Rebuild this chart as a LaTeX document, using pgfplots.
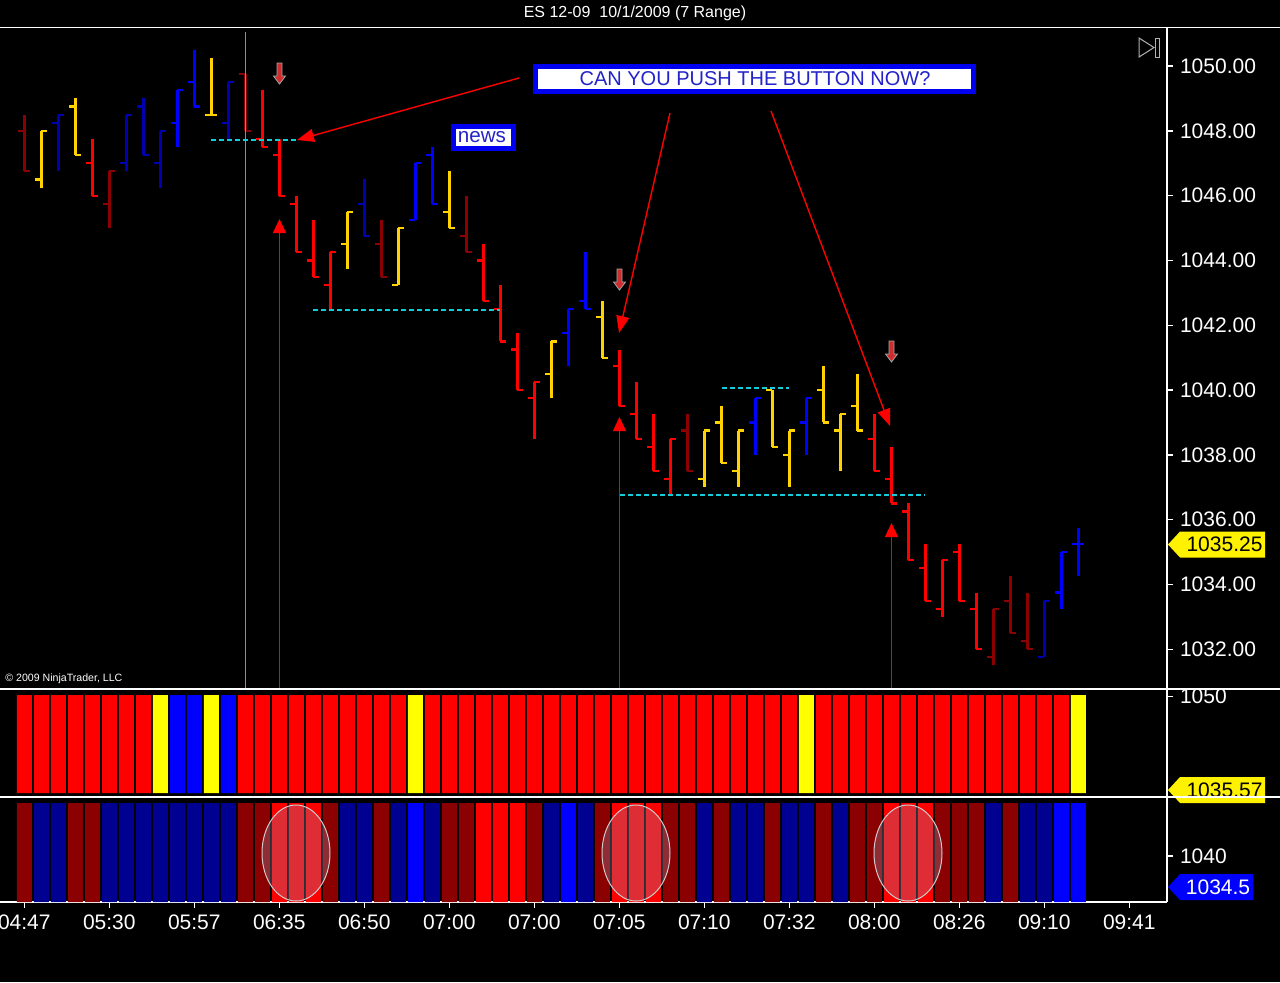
\documentclass[border=0pt]{standalone}
\usepackage{pgfplots}
\pgfplotsset{compat=1.18}
\usepackage{pgfplotstable}
\usepackage{fontspec}
\setmainfont{Liberation Sans}
\usetikzlibrary{arrows.meta}

\definecolor{cRed}{RGB}{255,0,0}
\definecolor{cDkRed}{RGB}{139,0,0}
\definecolor{cGold}{RGB}{255,210,0}
\definecolor{cBlue}{RGB}{0,0,255}
\definecolor{cDkBlue}{RGB}{0,0,176}
\definecolor{pYel}{RGB}{255,255,0}
\definecolor{pDkBlue}{RGB}{0,0,145}
\definecolor{cCyan}{RGB}{20,205,215}
\definecolor{cVline}{RGB}{100,140,255}
\definecolor{cBoxBlue}{RGB}{0,0,240}
\definecolor{cTxtBlue}{RGB}{35,35,200}
\definecolor{cEll}{RGB}{150,150,180}

\pgfdeclareplotmark{otick}{\pgfpathmoveto{\pgfqpoint{-\pgfplotmarksize}{0pt}}\pgfpathlineto{\pgfqpoint{0pt}{0pt}}\pgfusepathqstroke}
\pgfdeclareplotmark{ctick}{\pgfpathmoveto{\pgfqpoint{0pt}{0pt}}\pgfpathlineto{\pgfqpoint{\pgfplotmarksize}{0pt}}\pgfusepathqstroke}

% main panel OHLC bars (7 range), grouped by colour: index, open, high, low, close
\pgfplotstableread{
i o h l c
4 1047.00 1047.75 1046.00 1046.00
14 1047.75 1049.25 1047.50 1047.50
15 1047.25 1047.75 1046.00 1046.00
16 1045.75 1046.00 1044.25 1044.25
17 1044.00 1045.25 1043.50 1043.50
18 1043.25 1044.25 1042.50 1044.25
27 1044.00 1044.50 1042.75 1042.75
28 1042.50 1043.25 1041.50 1041.50
29 1041.25 1041.75 1040.00 1040.00
30 1039.75 1040.25 1038.50 1040.25
35 1040.75 1041.25 1039.50 1039.50
36 1039.25 1040.25 1038.50 1038.50
37 1038.25 1039.25 1037.50 1037.50
38 1037.25 1038.50 1036.75 1038.50
50 1038.50 1039.25 1037.50 1037.50
51 1037.25 1038.25 1036.50 1036.50
52 1036.25 1036.50 1034.75 1034.75
53 1034.50 1035.25 1033.50 1033.50
54 1033.25 1034.75 1033.00 1034.75
55 1035.00 1035.25 1033.50 1033.50
56 1033.25 1033.75 1032.00 1032.00
}\tRed
\pgfplotstableread{
i o h l c
0 1048.00 1048.50 1046.75 1046.75
5 1045.75 1046.75 1045.00 1046.75
13 1049.75 1049.75 1048.00 1048.00
21 1044.50 1045.25 1043.50 1043.50
26 1044.75 1046.00 1044.25 1044.25
39 1038.75 1039.25 1037.50 1037.50
57 1031.75 1033.25 1031.50 1033.25
58 1033.50 1034.25 1032.50 1032.50
59 1032.25 1033.75 1032.00 1032.00
}\tDkRed
\pgfplotstableread{
i o h l c
1 1046.50 1048.00 1046.25 1048.00
3 1048.75 1049.00 1047.25 1047.25
11 1048.50 1050.25 1048.50 1048.50
19 1044.50 1045.50 1043.75 1045.50
22 1043.25 1045.00 1043.25 1045.00
25 1045.50 1046.75 1045.00 1045.00
31 1040.50 1041.50 1039.75 1041.50
34 1042.25 1042.75 1041.00 1041.00
40 1037.25 1038.75 1037.00 1038.75
41 1039.00 1039.50 1037.75 1037.75
42 1037.50 1038.75 1037.00 1038.75
44 1040.00 1040.00 1038.25 1038.25
45 1038.00 1038.75 1037.00 1038.75
47 1040.00 1040.75 1039.00 1039.00
48 1038.75 1039.25 1037.50 1039.25
49 1039.50 1040.50 1038.75 1038.75
}\tGold
\pgfplotstableread{
i o h l c
9 1048.25 1049.25 1047.50 1049.25
10 1049.50 1050.50 1048.75 1048.75
23 1045.25 1047.00 1045.25 1047.00
24 1047.25 1047.50 1045.75 1045.75
32 1041.75 1042.50 1040.75 1042.50
33 1042.75 1044.25 1042.50 1042.50
43 1039.00 1039.75 1038.00 1039.75
46 1039.00 1039.75 1038.00 1039.75
61 1033.75 1035.00 1033.25 1035.00
62 1035.25 1035.75 1034.25 1035.25
}\tBlue
\pgfplotstableread{
i o h l c
2 1048.25 1048.50 1046.75 1048.50
6 1047.00 1048.50 1046.75 1048.50
7 1048.75 1049.00 1047.25 1047.25
8 1047.00 1048.00 1046.25 1048.00
12 1048.25 1049.50 1047.75 1049.50
20 1045.75 1046.50 1044.75 1044.75
60 1031.75 1033.50 1031.75 1033.50
}\tDkBlue

% lower panel 1 (colour blocks)
\pgfplotstableread[row sep=\\]{i v\\ 0 1\\ 1 1\\ 2 1\\ 3 1\\ 4 1\\ 5 1\\ 6 1\\ 7 1\\ 13 1\\ 14 1\\ 15 1\\ 16 1\\ 17 1\\ 18 1\\ 19 1\\ 20 1\\ 21 1\\ 22 1\\ 24 1\\ 25 1\\ 26 1\\ 27 1\\ 28 1\\ 29 1\\ 30 1\\ 31 1\\ 32 1\\ 33 1\\ 34 1\\ 35 1\\ 36 1\\ 37 1\\ 38 1\\ 39 1\\ 40 1\\ 41 1\\ 42 1\\ 43 1\\ 44 1\\ 45 1\\ 47 1\\ 48 1\\ 49 1\\ 50 1\\ 51 1\\ 52 1\\ 53 1\\ 54 1\\ 55 1\\ 56 1\\ 57 1\\ 58 1\\ 59 1\\ 60 1\\ 61 1\\}\tAred
\pgfplotstableread[row sep=\\]{i v\\ 8 1\\ 11 1\\ 23 1\\ 46 1\\ 62 1\\}\tAyel
\pgfplotstableread[row sep=\\]{i v\\ 9 1\\ 10 1\\ 12 1\\}\tAblu
% lower panel 2
\pgfplotstableread[row sep=\\]{i v\\ 0 1\\ 3 1\\ 4 1\\ 13 1\\ 14 1\\ 18 1\\ 21 1\\ 25 1\\ 26 1\\ 30 1\\ 34 1\\ 38 1\\ 39 1\\ 41 1\\ 44 1\\ 47 1\\ 49 1\\ 50 1\\ 54 1\\ 55 1\\ 56 1\\ 58 1\\}\tBdr
\pgfplotstableread[row sep=\\]{i v\\ 1 1\\ 2 1\\ 5 1\\ 6 1\\ 7 1\\ 8 1\\ 9 1\\ 10 1\\ 11 1\\ 12 1\\ 19 1\\ 20 1\\ 22 1\\ 24 1\\ 31 1\\ 33 1\\ 40 1\\ 42 1\\ 43 1\\ 45 1\\ 46 1\\ 48 1\\ 57 1\\ 59 1\\ 60 1\\}\tBdb
\pgfplotstableread[row sep=\\]{i v\\ 23 1\\ 32 1\\ 61 1\\ 62 1\\}\tBbl
\pgfplotstableread[row sep=\\]{i v\\ 15 1\\ 16 1\\ 17 1\\ 27 1\\ 28 1\\ 29 1\\ 35 1\\ 36 1\\ 37 1\\ 51 1\\ 52 1\\ 53 1\\}\tBrd

\newcommand{\ohlc}[2]{%
\addplot[forget plot, draw=none, mark=none, error bars/.cd, y dir=plus, y explicit, error mark=none, error bar style={draw=#2, line width=1.3pt, solid}] table[x=i, y=l, y error expr=\thisrow{h}-\thisrow{l}] {#1};
\addplot[forget plot, only marks, mark=otick, mark size=3pt, mark options={draw=#2, line width=1.1pt}] table[x=i, y=o] {#1};
\addplot[forget plot, only marks, mark=ctick, mark size=3pt, mark options={draw=#2, line width=1.1pt}] table[x=i, y=c] {#1};
}
\newcommand{\pbars}[2]{\addplot[forget plot, ybar, bar width=7.5pt, bar shift=0pt, fill=#2, draw=none] table[x=i, y=v] {#1};}

\pgfplotsset{ninja/.style={scale only axis, width=583.5pt, xmin=-1.4294, xmax=67.218,
  axis y line*=right, axis line style={white, line width=0.7pt},
  tick style={white, line width=0.7pt}, tick align=outside, major tick length=3pt,
  ticklabel style={text=white, font=\fontsize{10.5}{12}\selectfont},
  yticklabel style={anchor=west},
  /pgf/number format/assume math mode=true, clip=false}}

\begin{document}
\begin{tikzpicture}
\fill[black] (0,0) rectangle (640pt,-491pt);

% ---------------- main price panel
\begin{axis}[ninja, at={(0pt,-14pt)}, anchor=north west, height=330.5pt,
  axis x line=none, ymin=1030.7716, ymax=1051.1728,
  ytick={1032,1034,1036,1038,1040,1042,1044,1046,1048,1050},
  yticklabels={1032.00,1034.00,1036.00,1038.00,1040.00,1042.00,1044.00,1046.00,1048.00,1050.00}]
\ohlc{\tRed}{cRed}
\ohlc{\tDkRed}{cDkRed}
\ohlc{\tGold}{cGold}
\ohlc{\tBlue}{cBlue}
\ohlc{\tDkBlue}{cDkBlue}
\end{axis}

% ---------------- panel 1
\begin{axis}[ninja, at={(0pt,-344.5pt)}, anchor=north west, height=54pt,
  axis x line=none, ymin=-0.0408, ymax=1.0612, ytick={0.9827}, yticklabels={1050}]
\pbars{\tAred}{cRed}
\pbars{\tAyel}{pYel}
\pbars{\tAblu}{cBlue}
\end{axis}

% ---------------- panel 2
\begin{axis}[ninja, at={(0pt,-398.5pt)}, anchor=north west, height=52.5pt,
  axis x line*=bottom, ymin=0, ymax=1.0606, ytick={0.4646}, yticklabels={1040},
  xtick={0,5,10,15,20,25,30,35,40,45,50,55,60,65},
  xticklabels={04:47,05:30,05:57,06:35,06:50,07:00,07:00,07:05,07:10,07:32,08:00,08:26,09:10,09:41}]
\pbars{\tBdr}{cDkRed}
\pbars{\tBdb}{pDkBlue}
\pbars{\tBbl}{cBlue}
\pbars{\tBrd}{cRed}
\end{axis}

% ---------------- annotations (pixel coordinates)
\begin{scope}[x=0.5pt,y=-0.5pt]
\node[text=white, font=\fontsize{8}{9.6}\selectfont] at (635,13.5) {ES 12-09\ \ 10/1/2009 (7 Range)};
\node[anchor=west, text=white, font=\fontsize{5.3}{6.4}\selectfont, inner sep=0pt] at (5,679) {\textcopyright\ 2009 NinjaTrader, LLC};
% play icon
\draw[gray!60, line width=0.5pt] (1139,38) -- (1139,57) -- (1154,47.5) -- cycle;
\draw[gray!60, line width=0.5pt] (1155.5,38) rectangle (1159,57);
% vertical blue line
\draw[cVline, line width=0.7pt] (245.5,32) -- (245.5,688);
% cyan dashed levels
\begin{scope}[cCyan, line width=1pt, dash pattern=on 2.5pt off 1.5pt]
\draw (211,140) -- (297,140);
\draw (313,310) -- (500,310);
\draw (722,388) -- (789,388);
\draw (620,494.5) -- (925,494.5);
\end{scope}
% red arrows
\begin{scope}[red, line width=0.7pt]
\draw[-{Triangle[length=7pt,width=6.5pt]}] (279.5,688) -- (279.5,219);
\draw[-{Triangle[length=7pt,width=6.5pt]}] (619.5,688) -- (619.5,417);
\draw[-{Triangle[length=7pt,width=6.5pt]}] (891.5,688) -- (891.5,523);
\draw[-{Triangle[length=8.5pt,width=6.5pt]}] (519,78) -- (297,140);
\draw[-{Triangle[length=8.5pt,width=6.5pt]}] (670,113) -- (619,333);
\draw[-{Triangle[length=8.5pt,width=6.5pt]}] (771,111) -- (890,426);
\end{scope}
% small down arrows
\foreach \xc/\yt in {279.5/63, 619.5/269, 891.5/341}{
  \filldraw[fill={rgb,255:red,205;green,45;blue,45}, draw=gray!70, line width=0.4pt]
    (\xc-2.5,\yt) -- (\xc+2.5,\yt) -- (\xc+2.5,\yt+13) -- (\xc+6,\yt+13) -- (\xc,\yt+21) -- (\xc-6,\yt+13) -- (\xc-2.5,\yt+13) -- cycle;
}
% text boxes
\fill[cBoxBlue] (533,64) rectangle (976,94);
\fill[white] (538,69) rectangle (971,89);
\node[text=cTxtBlue, font=\fontsize{10}{12}\selectfont] at (755,78.5) {CAN YOU PUSH THE BUTTON NOW?};
\fill[cBoxBlue] (451,124) rectangle (516,151);
\fill[white] (456,129) rectangle (511,146);
\node[text=cTxtBlue, font=\fontsize{10.3}{12}\selectfont, inner sep=0pt] at (482,137) {news};
% ellipses on lower panel
\foreach \xe in {296,636,908}{
  \filldraw[fill=cEll, fill opacity=0.3, draw=gray!40, line width=0.5pt] (\xe,853) ellipse [x radius=34, y radius=48];
}
% price flags
\fill[yellow] (1168,544.5) -- (1180,531.5) -- (1265,531.5) -- (1265,557.5) -- (1180,557.5) -- cycle;
\node[text=black, font=\fontsize{10.5}{12}\selectfont] at (1224.5,544.5) {1035.25};
\fill[yellow] (1168,790) -- (1180,777) -- (1265,777) -- (1265,803) -- (1180,803) -- cycle;
\node[text=black, font=\fontsize{10.5}{12}\selectfont] at (1224.5,790) {1035.57};
\fill[cBlue] (1168,887) -- (1180,874) -- (1253,874) -- (1253,900) -- (1180,900) -- cycle;
\node[text=white, font=\fontsize{10.5}{12}\selectfont] at (1218,887) {1034.5};
% separators
\draw[white, line width=0.7pt] (0,27.5) -- (1280,27.5);
\draw[white, line width=0.7pt] (0,689) -- (1280,689);
\draw[white, line width=0.7pt] (0,797) -- (1280,797);
\end{scope}

\pgfresetboundingbox
\path[use as bounding box] (0,0) rectangle (640pt,-491pt);
\end{tikzpicture}
\end{document}
